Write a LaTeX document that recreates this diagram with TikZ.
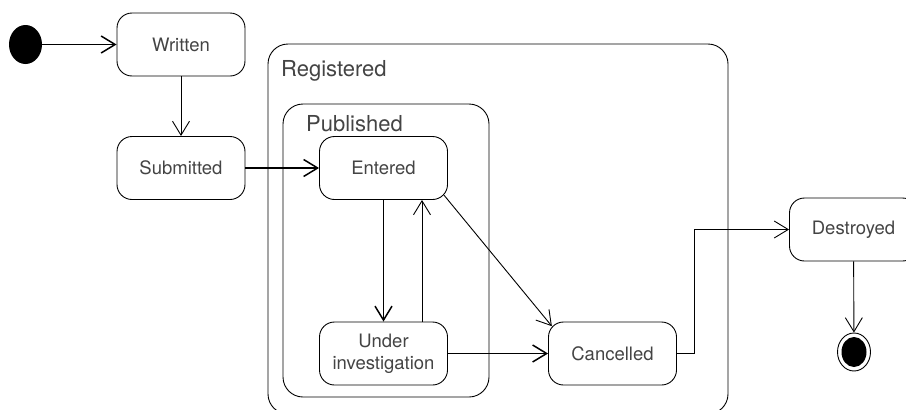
\documentclass[tikz,border=0pt]{standalone}
\usepackage{fontspec}
\setmainfont{TeX Gyre Heros}
\usetikzlibrary{shapes,arrows.meta}

\definecolor{txtgray}{HTML}{444444}

\tikzset{
    state/.style={draw, rounded corners=15pt, line width=0.9pt, minimum width=128pt, minimum height=63pt, align=center, text=txtgray, font=\fontsize{18.5}{22}\selectfont},
    region/.style={draw, rounded corners=20pt, line width=0.9pt, inner sep=0pt},
    regionlabel/.style={anchor=base west, inner sep=0pt, text=txtgray, font=\fontsize{22}{26}\selectfont},
    trans/.style={-{Straight Barb[length=14pt,width=17pt]}, line width=0.9pt},
    transthick/.style={trans, line width=1.5pt},
}

\begin{document}
\begin{tikzpicture}[x=1pt, y=-1pt]
    \clip (0,0) rectangle (906,410);

    % composite states
    \node[region, minimum width=460pt, minimum height=370pt] (registered) at (498,229) {};
    \node[regionlabel] (registeredlabel) at (281,76) {Registered};
    \node[region, minimum width=206pt, minimum height=293pt] (published) at (386,250.5) {};
    \node[regionlabel] (publishedlabel) at (306,131) {Published};

    % pseudo states
    \node[ellipse, fill=black, inner sep=0pt, minimum width=33pt, minimum height=39pt] (start) at (25.5,44.5) {};
    \node[ellipse, draw, line width=0.9pt, inner sep=0pt, minimum width=33pt, minimum height=38pt] (end) at (854,352) {};
    \node[ellipse, fill=black, inner sep=0pt, minimum width=25pt, minimum height=30pt] (endcore) at (end) {};

    % states
    \node[state] (written) at (181,44.5) {Written};
    \node[state] (submitted) at (181,168) {Submitted};
    \node[state] (entered) at (383.5,168) {Entered};
    \node[state] (under) at (383.5,353.5) {Under\\investigation};
    \node[state] (cancelled) at (612.5,353.5) {Cancelled};
    \node[state] (destroyed) at (853.5,229.5) {Destroyed};

    % transitions
    \draw[transthick] (start) -- (written.west);
    \draw[trans] (written) -- (submitted);
    \draw[transthick] (submitted) -- (entered);
    \draw[transthick] (entered) -- (under);
    \draw[trans] ([xshift=38.5pt]under.north) -- ([xshift=38.5pt]entered.south);
    \draw[trans, shorten <=-6pt, shorten >=-6pt] (entered.south east) -- (cancelled.north west);
    \draw[transthick] (under) -- (cancelled);
    \draw[trans] (cancelled.east) -- ++(17,0) |- (destroyed.west);
    \draw[trans] (destroyed) -- (end);
\end{tikzpicture}
\end{document}
